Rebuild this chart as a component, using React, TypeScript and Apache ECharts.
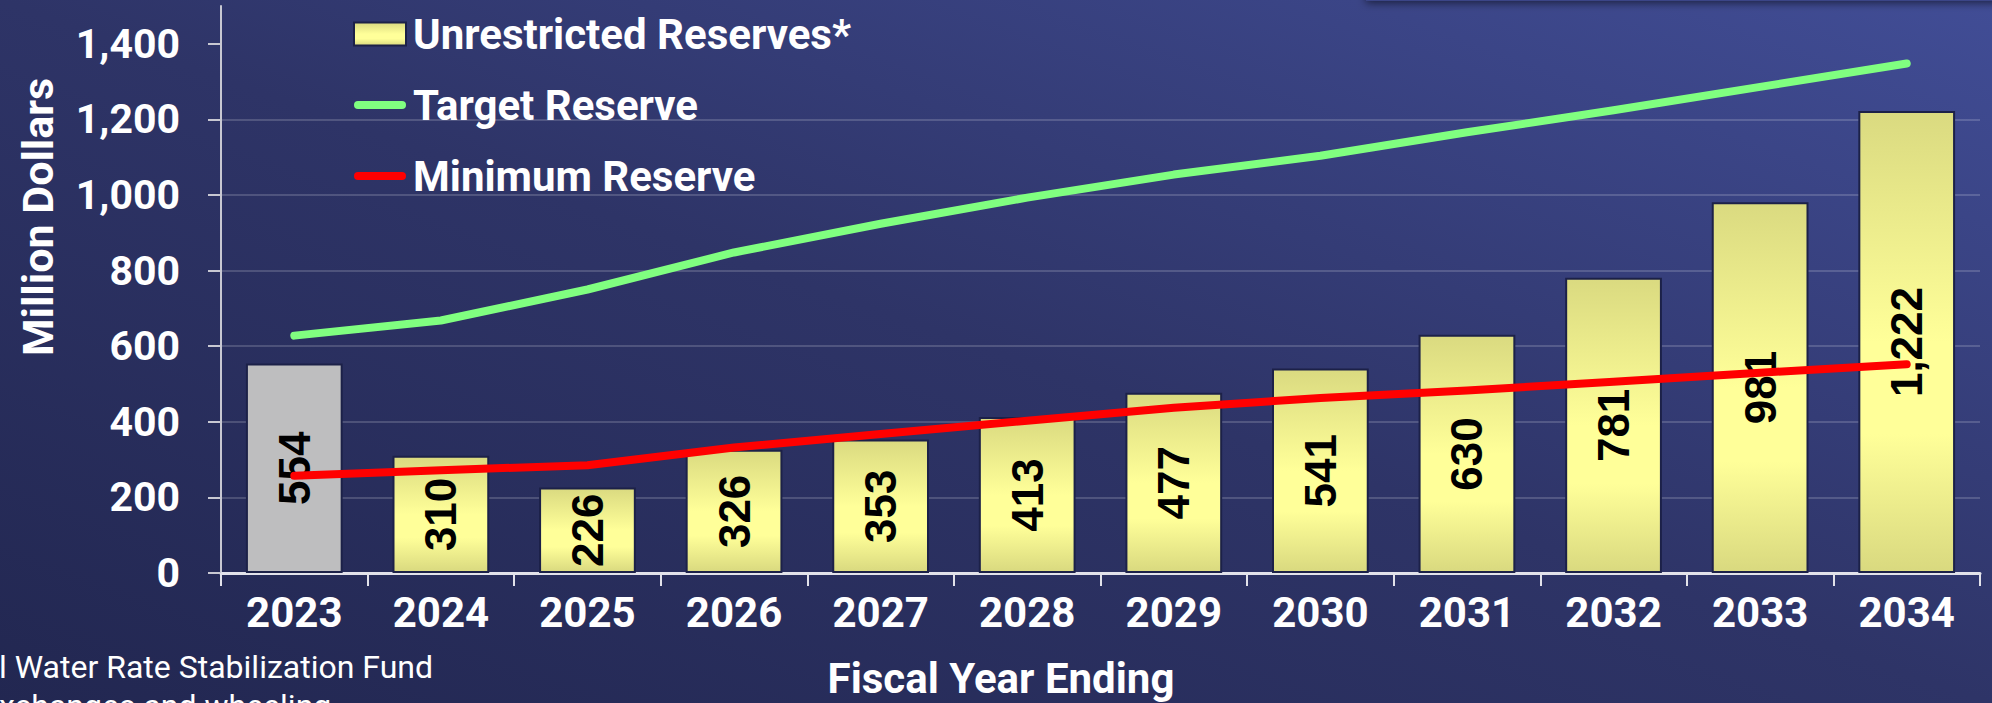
import React, { useEffect, useRef } from "react";
import * as echarts from "echarts";

const years = ["2023", "2024", "2025", "2026", "2027", "2028", "2029", "2030", "2031", "2032", "2033", "2034"];
const unrestrictedReserves = [554, 310, 226, 326, 353, 413, 477, 541, 630, 781, 981, 1222];
const targetReserve = [628, 668, 750, 848, 924, 993, 1054, 1104, 1166, 1224, 1286, 1348];
const minimumReserve = [257, 272, 285, 332, 368, 403, 437, 463, 483, 506, 530, 552];
const actualYears = ["2023"];
const yTicks = [0, 200, 400, 600, 800, 1000, 1200, 1400];
const footnoteLines = ["l Water Rate Stabilization Fund", "xchanges and wheeling"];

const fmt = (v: number) => v.toLocaleString("en-US");
const lineIcon = "path://M4,0 L48,0 A4,4 0 0 1 48,8 L4,8 A4,4 0 0 1 4,0 Z";

export default function App() {
  const ref = useRef<HTMLDivElement>(null);
  useEffect(() => {
    document.body.style.margin = "0";
    if (!ref.current) return;
    const chart = echarts.init(ref.current, undefined, { renderer: "svg" });
    const barGradient = new echarts.graphic.LinearGradient(0, 0, 0, 1, [
      { offset: 0, color: "#DADA80" },
      { offset: 0.5, color: "#FFFF99" },
      { offset: 0.7, color: "#FFFF99" },
      { offset: 1, color: "#D9D97F" },
    ]);
    const option: any = {
      animation: false,
      graphic: [
        {
          type: "rect",
          z: -100,
          silent: true,
          shape: { x: 0, y: 0, width: 1992, height: 703 },
          style: {
            fill: new echarts.graphic.LinearGradient(0, 1, 1, 0, [
              { offset: 0, color: "#222751" },
              { offset: 0.5, color: "#2e3467" },
              { offset: 1, color: "#414d96" },
            ]),
          },
        },
        {
          type: "rect",
          z: -90,
          silent: true,
          shape: { x: 1366, y: -40, width: 700, height: 41 },
          style: {
            fill: "#3a4587",
            shadowBlur: 8,
            shadowOffsetY: 2,
            shadowColor: "rgba(0,0,0,0.55)",
          },
        },
        {
          type: "text",
          x: 38,
          y: 217,
          rotation: Math.PI / 2,
          style: {
            text: "Million Dollars",
            fill: "#ffffff",
            font: "bold 43px Roboto",
            textAlign: "center",
            textVerticalAlign: "middle",
          },
        },
        {
          type: "text",
          x: 1001,
          y: 678,
          style: {
            text: "Fiscal Year Ending",
            fill: "#ffffff",
            font: "bold 42px Roboto",
            textAlign: "center",
            textVerticalAlign: "middle",
          },
        },
        ...footnoteLines.map((t, i) => ({
          type: "text",
          x: -1,
          y: 667 + i * 39,
          style: {
            text: t,
            fill: "#ffffff",
            font: "32px Roboto",
            textAlign: "left",
            textVerticalAlign: "middle",
          },
        })),
      ],
      legend: {
        orient: "vertical",
        left: 353,
        top: 13,
        itemWidth: 52,
        itemHeight: 23,
        itemGap: 29,
        padding: 0,
        textStyle: { color: "#ffffff", fontFamily: "Roboto", fontWeight: "bold", fontSize: 42, padding: [0, 0, 0, 2] },
        data: [
          { name: "Unrestricted Reserves*", icon: "rect" },
          { name: "Target Reserve", icon: lineIcon },
          { name: "Minimum Reserve", icon: lineIcon },
        ],
      },
      grid: { left: 221, right: 12, top: 6, bottom: 130, containLabel: false },
      xAxis: {
        type: "category",
        data: years,
        axisLine: { lineStyle: { color: "#E2E2EA", width: 3 } },
        axisTick: { show: true, length: 13, lineStyle: { color: "#E2E2EA", width: 2 } },
        axisLabel: {
          color: "#ffffff",
          fontFamily: "Roboto",
          fontWeight: "bold",
          fontSize: 42,
          margin: 18,
          interval: 0,
        },
      },
      yAxis: {
        type: "value",
        min: 0,
        max: 1500,
        interval: 200,
        axisLine: { show: true, lineStyle: { color: "#C8C8D2", width: 2 } },
        axisTick: { show: true, length: 13, customValues: yTicks, lineStyle: { color: "#C8C8D2", width: 2 } },
        axisLabel: {
          customValues: yTicks,
          color: "#ffffff",
          fontFamily: "Roboto",
          fontWeight: "bold",
          fontSize: 41,
          margin: 41,
          formatter: (v: number) => fmt(v),
        },
        splitLine: { show: true, showMaxLine: false, lineStyle: { color: "rgba(255,255,255,0.17)", width: 2 } },
      },
      series: [
        {
          name: "Unrestricted Reserves*",
          type: "bar",
          barCategoryGap: "34%",
          z: 2,
          itemStyle: { color: barGradient, borderColor: "#1c2148", borderWidth: 2 },
          label: {
            show: true,
            position: "inside",
            rotate: 90,
            color: "#000000",
            fontFamily: "Liberation Sans",
            fontWeight: "bold",
            fontSize: 44,
            formatter: (p: any) => fmt(p.value),
          },
          data: unrestrictedReserves.map((v, i) =>
            actualYears.includes(years[i]) ? { value: v, itemStyle: { color: "#BEBEBF" } } : v
          ),
        },
        {
          name: "Target Reserve",
          type: "line",
          z: 4,
          symbol: "none",
          lineStyle: { color: "#80FF80", width: 8, cap: "round", join: "round" },
          itemStyle: { color: "#80FF80" },
          data: targetReserve,
        },
        {
          name: "Minimum Reserve",
          type: "line",
          z: 4,
          symbol: "none",
          lineStyle: { color: "#FF0000", width: 8, cap: "round", join: "round" },
          itemStyle: { color: "#FF0000" },
          data: minimumReserve,
        },
      ],
    };
    chart.setOption(option);
    return () => chart.dispose();
  }, []);
  return <div ref={ref} style={{ width: 1992, height: 703 }} />;
}
